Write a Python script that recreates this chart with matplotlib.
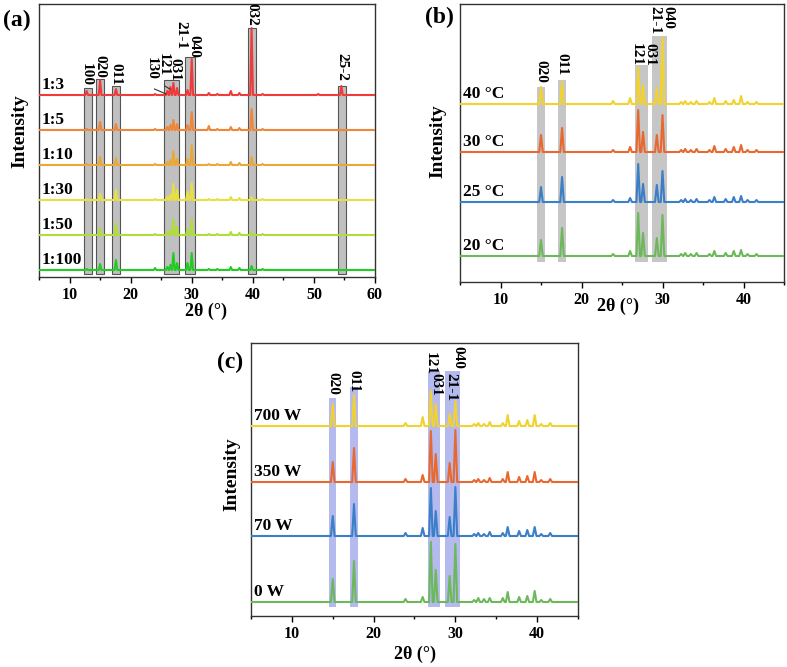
import matplotlib
matplotlib.use('Agg')
import matplotlib.pyplot as plt
from matplotlib.ticker import MultipleLocator

plt.rcParams['font.family'] = ['Liberation Serif', 'DejaVu Serif']
plt.rcParams['font.weight'] = 'bold'

# ---- data ----
# panel (a): ratio series
peaks_a = [12.8, 15.0, 17.6, 24.0, 26.0, 26.5, 27.0, 27.6, 29.3, 30.0, 32.8, 34.2, 36.4, 37.8, 39.8, 41.6, 50.7, 54.5]
names_a = ['1:100', '1:50', '1:30', '1:10', '1:5', '1:3']
heights_a = [
    [1, 6, 10, 2, 3, 5, 17, 7, 7, 17, 1, 1, 3, 2, 4, 1, 0, 0],
    [1, 7, 12, 1, 3, 5, 16, 8, 6, 16, 1, 1, 3, 2, 3, 1, 0, 0],
    [1, 6, 10, 1, 3, 5, 16, 10, 8, 17, 1, 1, 3, 2, 3, 1, 0, 0],
    [1, 8, 7, 1, 3, 5, 14, 6, 6, 20, 1, 1, 3, 2, 8, 1, 0, 0],
    [1, 8, 6, 1, 3, 5, 10, 6, 5, 18, 4, 1, 3, 2, 21, 1, 0, 0],
    [4, 15, 6, 1, 4, 8, 12, 7, 5, 36, 2, 1, 4, 2, 67, 1, 1, 9],
]
bands_a = [(12.3, 13.7), (14.4, 15.6), (17.0, 18.2), (25.5, 27.9), (28.9, 30.6), (39.2, 40.5), (53.9, 55.3)]
hkl_a = ['100', '020', '011', '130', '121', '031', '21-1', '040', '032', '25-2']
hkl_a_pos = [12.8, 15.0, 17.6, 23.3, 25.4, 27.3, 28.2, 30.3, 39.8, 54.6]

# panels (b) and (c) share peak positions
peaks_bc = [15.0, 17.6, 23.9, 26.0, 27.0, 27.6, 29.3, 30.0, 32.3, 32.8, 33.5, 34.2, 35.8, 36.4, 37.8, 38.8, 39.7, 40.5, 41.6]
names_b = ['20 °C', '25 °C', '30 °C', '40 °C']
heights_b = [
    [16, 28, 2, 5, 43, 23, 18, 41, 2, 3, 2, 3, 2, 5, 3, 5, 6, 2, 2],
    [15, 25, 2, 4, 38, 18, 17, 31, 2, 3, 2, 3, 2, 5, 3, 5, 6, 2, 2],
    [17, 24, 2, 5, 42, 20, 17, 37, 2, 3, 2, 3, 2, 6, 3, 5, 7, 2, 2],
    [17, 22, 3, 6, 37, 19, 16, 67, 2, 3, 2, 3, 2, 6, 3, 4, 8, 2, 2],
]
names_c = ['0 W', '70 W', '350 W', '700 W']
heights_c = [
    [23, 41, 3, 5, 60, 32, 26, 58, 2, 4, 3, 4, 4, 10, 5, 6, 11, 2, 3],
    [20, 32, 3, 8, 48, 25, 19, 49, 2, 3, 2, 4, 3, 9, 5, 6, 9, 2, 3],
    [20, 34, 3, 7, 51, 28, 19, 52, 2, 3, 2, 4, 3, 10, 5, 6, 10, 2, 3],
    [22, 31, 3, 9, 35, 22, 12, 25, 2, 3, 2, 4, 3, 11, 5, 6, 11, 2, 3],
]
bands_bc = [(14.55, 15.45), (17.1, 18.1), (26.6, 28.15), (28.75, 30.6)]
hkl_bc = ['020', '011', '121', '031', '21-1', '040']
hkl_b_pos = [15.0, 17.6, 26.8, 28.5, 29.0, 30.7]
hkl_c_pos = [15.0, 17.6, 26.9, 27.6, 29.4, 30.3]

# ---- styles / layout ----
W, H = 787, 667
cols_a = ['#22cc22', '#b0dc3c', '#e8e040', '#eaa838', '#f08638', '#ee3b3b']
cols_bc = ['#6db85a', '#3a7fc8', '#e8682f', '#f2d22e']
offs_a = [7, 42, 77, 112, 147, 182]
offs_b = [26, 80, 130, 178]
offs_c = [14, 80, 134, 190]
band_top_a = [189, 198, 191, 197, 220, 249, 191]
band_top_b = [195, 202, 217, 246]
band_top_c = [218, 229, 245, 245]
lab_top_a = [214, 222, 214, 220, 224, 219, 256, 242, 274, 224]
lab_top_b = [222, 229, 239, 239, 276, 276]
lab_top_c = [244, 246, 264, 243, 243, 270]
hw = 0.22


def ax_rect(x0, y0, x1, y1):
    return [x0 / W, 1 - y1 / H, (x1 - x0) / W, (y1 - y0) / H]


def trace(peaks, hs, xmin, xmax):
    xs, ys = [xmin], [0]
    for p, h in zip(peaks, hs):
        xs += [p - hw, p, p + hw]
        ys += [0, h, 0]
    xs.append(xmax)
    ys.append(0)
    return xs, ys


def style_ax(ax, xmax, ymax):
    ax.set_xlim(5, xmax)
    ax.set_ylim(0, ymax)
    ax.set_yticks([])
    ax.xaxis.set_major_locator(MultipleLocator(10))
    ax.xaxis.set_minor_locator(MultipleLocator(5))
    ax.tick_params(axis='x', which='major', length=4, width=1, labelsize=11.5, pad=3)
    ax.tick_params(axis='x', which='minor', length=2.5, width=1)
    for lab in ax.get_xticklabels():
        lab.set_fontweight('bold')
    for s in ax.spines.values():
        s.set_linewidth(1.0)
        s.set_color('#333333')


def ftext(x, y, s, **kw):
    fig.text(x / W, 1 - y / H, s, ha='center', va='center', fontweight='bold', **kw)


fig = plt.figure(figsize=(W / 100, H / 100), dpi=100)

# (a)
ax = fig.add_axes(ax_rect(39, 4, 375, 277))
for (x0, x1), top in zip(bands_a, band_top_a):
    ax.add_patch(plt.Rectangle((x0, 3), x1 - x0, top - 3, facecolor='#c0c0c0', edgecolor='#555555', lw=0.8, zorder=1))
for name, hs, off, c in zip(names_a, heights_a, offs_a, cols_a):
    xs, ys = trace(peaks_a, hs, 5, 60)
    ax.plot(xs, [y + off for y in ys], color=c, lw=1.5, zorder=3)
    ax.text(5.5, off + 2, name, fontsize=12.5, fontweight='bold', va='bottom', ha='left', zorder=4)
for lab, x, top in zip(hkl_a, hkl_a_pos, lab_top_a):
    ax.text(x, top, lab, rotation=270, fontsize=11, fontweight='bold', ha='center', va='top', zorder=5)
ax.plot([23.9, 25.8], [188, 183], color='#333333', lw=0.8, zorder=5)
ax.plot([25.6, 26.4], [191, 188], color='#333333', lw=0.8, zorder=5)
style_ax(ax, 60, 273)

# (b)
ax = fig.add_axes(ax_rect(460, 4, 784, 282))
for (x0, x1), top in zip(bands_bc, band_top_b):
    ax.add_patch(plt.Rectangle((x0, 20), x1 - x0, top - 20, facecolor='#c6c6c6', edgecolor='none', zorder=1))
for name, hs, off, c in zip(names_b, heights_b, offs_b, cols_bc):
    xs, ys = trace(peaks_bc, hs, 5, 45)
    ax.plot(xs, [y + off for y in ys], color=c, lw=1.5, zorder=3)
    ax.text(5.4, off + 2, name, fontsize=12.5, fontweight='bold', va='bottom', ha='left', zorder=4)
for lab, x, top in zip(hkl_bc, hkl_b_pos, lab_top_b):
    ax.text(x, top, lab, rotation=270, fontsize=11, fontweight='bold', ha='center', va='top', zorder=5)
style_ax(ax, 45, 278)

# (c)
ax = fig.add_axes(ax_rect(251, 343, 578, 616))
for (x0, x1), top in zip(bands_bc, band_top_c):
    ax.add_patch(plt.Rectangle((x0, 9), x1 - x0, top - 9, facecolor='#b4b9ee', edgecolor='none', zorder=1))
for name, hs, off, c in zip(names_c, heights_c, offs_c, cols_bc):
    xs, ys = trace(peaks_bc, hs, 5, 45)
    ax.plot(xs, [y + off for y in ys], color=c, lw=1.5, zorder=3)
    ax.text(5.4, off + 2, name, fontsize=12.5, fontweight='bold', va='bottom', ha='left', zorder=4)
for lab, x, top in zip(hkl_bc, hkl_c_pos, lab_top_c):
    ax.text(x, top, lab, rotation=270, fontsize=11, fontweight='bold', ha='center', va='top', zorder=5)
style_ax(ax, 45, 273)

# panel tags and axis titles
ftext(17, 20, '(a)', fontsize=17)
ftext(439, 17, '(b)', fontsize=17)
ftext(230, 362, '(c)', fontsize=17)
ftext(20, 131, 'Intensity', fontsize=14, rotation=90)
ftext(438, 141, 'Intensity', fontsize=14, rotation=90)
ftext(232, 474, 'Intensity', fontsize=14, rotation=90)
ftext(206, 311, '2θ (°)', fontsize=13)
ftext(618, 306, '2θ (°)', fontsize=13)
ftext(415, 654, '2θ (°)', fontsize=13)

fig.savefig('out.png', dpi=100)
